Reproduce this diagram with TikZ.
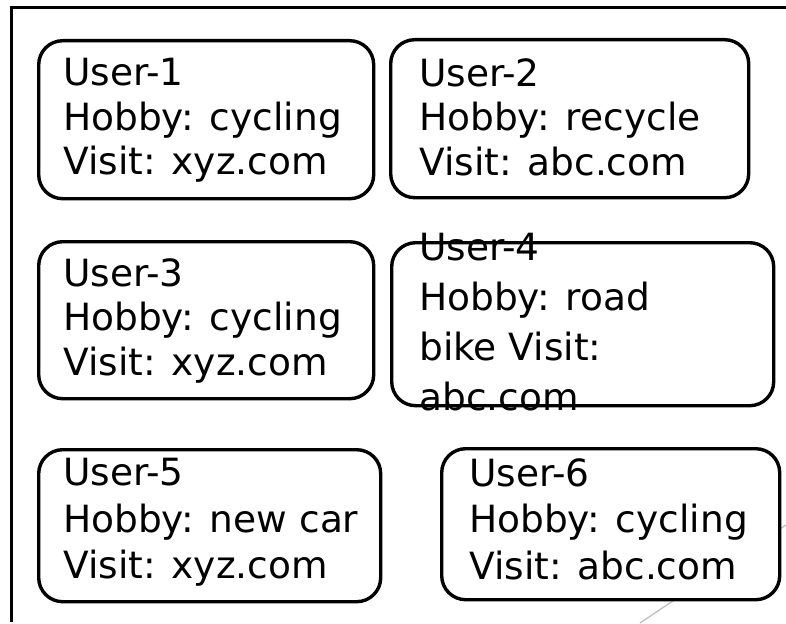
\documentclass[tikz,border=0pt]{standalone}
\usepackage{fontspec}
\setmainfont{DejaVu Sans}
\begin{document}
\begin{tikzpicture}[x=1pt,y=-1pt,
  userbox/.style={draw=black, fill=white, line width=3.4pt, rounded corners=24pt,
    anchor=north west, inner sep=0pt},
  usertext/.style={anchor=north west, inner sep=0pt, align=left,
    font=\fontsize{37.5}{#1}\selectfont},
  usertext/.default={44.5},
  frameline/.style={line width=3pt, line cap=rect},
  deco/.style={draw=black!25, line width=1.3pt}]
\useasboundingbox (0,0) rectangle (786,623);

% slide frame and template stroke
\coordinate (fTL) at (11,8);
\coordinate (fTR) at (786,8);
\coordinate (fBL) at (11,620);
\draw[frameline] (fBL) -- (fTL) -- (fTR);
\coordinate (dA) at (640,623);
\coordinate (dB) at (786,525);
\draw[deco] (dA) -- (dB);

% user cards
\node[userbox, minimum width=335pt, minimum height=158pt] (b1) at (37,39) {};
\node[userbox, minimum width=358pt, minimum height=158pt] (b2) at (389,38) {};
\node[userbox, minimum width=335pt, minimum height=157pt] (b3) at (37,240) {};
\node[userbox, minimum width=382pt, minimum height=163pt] (b4) at (390,241) {};
\node[userbox, minimum width=342pt, minimum height=152pt] (b5) at (37,448) {};
\node[userbox, minimum width=338pt, minimum height=151pt] (b6) at (440,447) {};

\node[usertext] (t1) at (63,58) {User-1\\Hobby: cycling\\Visit: xyz.com};
\node[usertext] (t2) at (419,58) {User-2\\Hobby: recycle\\Visit: abc.com};
\node[usertext] (t3) at (63,258) {User-3\\Hobby: cycling\\Visit: xyz.com};
\node[usertext=50] (t4) at (419,233) {User-4\\Hobby: road\\bike Visit:\\abc.com};
\node[usertext=46.5] (t5) at (63,458) {User-5\\Hobby: new car\\Visit: xyz.com};
\node[usertext=46.5] (t6) at (469,458) {User-6\\Hobby: cycling\\Visit: abc.com};
\end{tikzpicture}
\end{document}
